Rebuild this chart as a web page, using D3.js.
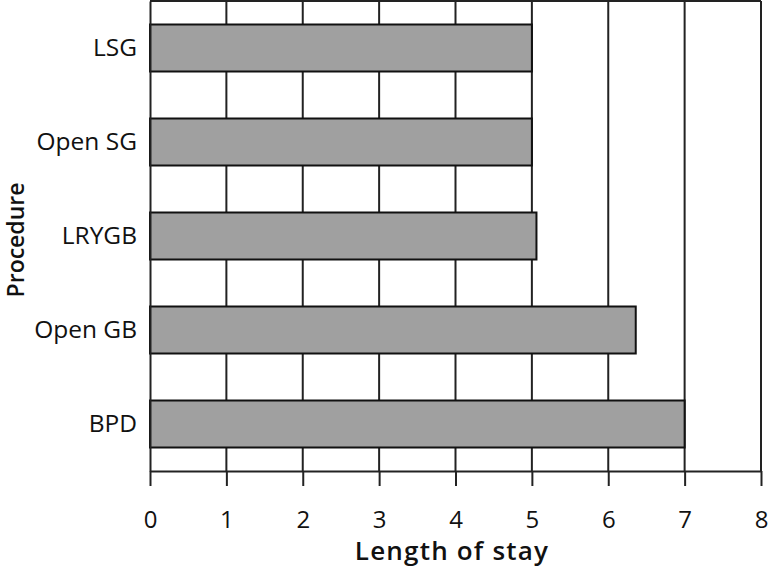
<!DOCTYPE html>
<html>
<head>
<meta charset="utf-8">
<script src="https://cdn.jsdelivr.net/npm/d3@7"></script>
<style>
    body { margin: 0; background: #fff; }
    text { font-family: "Open Sans", "DejaVu Sans", sans-serif; }
</style>
</head>
<body>
<svg id="chart" width="769" height="569"></svg>
<script>
// Data
const procedures = ["LSG", "Open SG", "LRYGB", "Open GB", "BPD"];
const lengthOfStay = [5.0, 5.0, 5.06, 6.36, 7.0];
const xTicks = [0, 1, 2, 3, 4, 5, 6, 7, 8];

const svg = d3.select("#chart");
const margin = {top: 1, left: 150, right: 8, bottom: 98};
const width = 769 - margin.left - margin.right;
const height = 569 - margin.top - margin.bottom;

const g = svg.append("g").attr("transform", `translate(${margin.left},${margin.top})`);

const x = d3.scaleLinear().domain([0, 8]).range([0, width]);
const y = d3.scaleBand().domain(procedures).range([0, height])
    .paddingInner(0.5).paddingOuter(0.25);

// vertical gridlines
g.selectAll("line.grid").data(xTicks.slice(1)).join("line")
    .attr("class", "grid")
    .attr("x1", d => x(d)).attr("x2", d => x(d))
    .attr("y1", 0).attr("y2", height)
    .attr("stroke", "#222").attr("stroke-width", 2);

// top border
g.append("line")
    .attr("x1", 0).attr("x2", width).attr("y1", 0).attr("y2", 0)
    .attr("stroke", "#222").attr("stroke-width", 2);

// bars
const data = procedures.map((p, i) => ({p, v: lengthOfStay[i]}));
g.selectAll("rect.bar").data(data).join("rect")
    .attr("class", "bar")
    .attr("x", 0)
    .attr("y", d => y(d.p))
    .attr("width", d => x(d.v))
    .attr("height", y.bandwidth())
    .attr("fill", "#a0a0a0")
    .attr("stroke", "#111").attr("stroke-width", 2);

// x axis
const xAxis = g.append("g").attr("transform", `translate(0,${height})`)
    .call(d3.axisBottom(x).tickValues(xTicks).tickSize(15).tickPadding(25).tickSizeOuter(0));
xAxis.attr("font-size", 24).attr("font-family", "'Open Sans', sans-serif");
xAxis.select(".domain").attr("stroke", "#222").attr("stroke-width", 2);
xAxis.selectAll(".tick line").attr("stroke", "#222").attr("stroke-width", 2);
xAxis.selectAll(".tick text").attr("fill", "#111");

// y axis
const yAxis = g.append("g")
    .call(d3.axisLeft(y).tickSize(0).tickPadding(13));
yAxis.attr("font-size", 24.5).attr("font-family", "'Open Sans', sans-serif");
yAxis.select(".domain").attr("stroke", "#222").attr("stroke-width", 2);
yAxis.selectAll(".tick text").attr("fill", "#111");

// axis titles
svg.append("text")
    .attr("x", 452).attr("y", 560)
    .attr("text-anchor", "middle")
    .attr("font-size", 26).attr("font-weight", 600).attr("fill", "#111")
    .attr("letter-spacing", 1.2)
    .text("Length of stay");

svg.append("text")
    .attr("transform", "translate(24,240) rotate(-90)")
    .attr("text-anchor", "middle")
    .attr("font-size", 23).attr("font-weight", 600).attr("fill", "#111")
    .text("Procedure");
</script>
</body>
</html>
